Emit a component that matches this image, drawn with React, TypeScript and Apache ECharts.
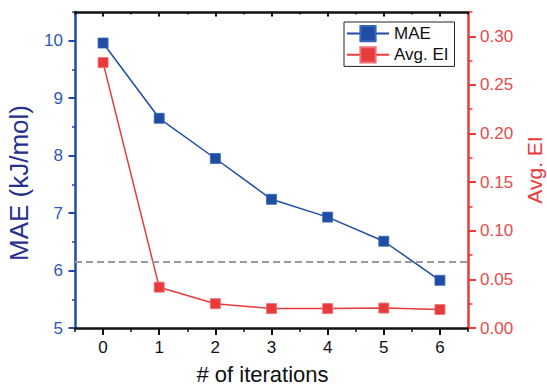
import React, { useEffect, useRef } from "react";
import * as echarts from "echarts";

const iterations = [0, 1, 2, 3, 4, 5, 6];
const maeValues = [9.96, 8.65, 7.95, 7.24, 6.93, 6.51, 5.83];
const eiValues = [0.273, 0.042, 0.025, 0.02, 0.02, 0.0205, 0.019];
const xTickLabels = [0, 1, 2, 3, 4, 5, 6];
const maeTicks = [5, 6, 7, 8, 9, 10];
const eiTicks = [0, 0.05, 0.1, 0.15, 0.2, 0.25, 0.3];
const thresholdMAE = 6.16;

const FONT = "Liberation Sans, Arial, sans-serif";
const BLUE = "#1f4da3";
const BLUE_LABEL = "#2c59b8";
const NAVY = "#26308f";
const RED = "#e8393b";
const RED_LABEL = "#e84a4c";

export default function App() {
  const ref = useRef<HTMLDivElement>(null);
  useEffect(() => {
    if (!ref.current) return;
    const chart = echarts.init(ref.current, undefined, { renderer: "svg" });
    const xBase = { type: "value", min: -0.5, max: 6.5, interval: 0.5, splitLine: { show: false } };
    const yLeftBase = { type: "value", min: 5, max: 10.5, interval: 0.5, position: "left", splitLine: { show: false } };
    const yRightBase = { type: "value", min: 0, max: 0.325, interval: 0.025, position: "right", splitLine: { show: false } };
    chart.setOption({
      animation: false,
      backgroundColor: "#ffffff",
      grid: { left: 75, right: 79, top: 12, bottom: 60, containLabel: false, outerBoundsMode: "none" },
      legend: {
        orient: "vertical",
        left: 344,
        top: 22,
        borderColor: "#222",
        borderWidth: 1,
        padding: [3, 6, 3, 2],
        itemWidth: 42,
        itemHeight: 19,
        itemGap: 4,
        textStyle: { fontFamily: FONT, fontSize: 17, color: "#111" },
        data: ["MAE", "Avg. EI"],
      },
      xAxis: [
        {
          ...xBase,
          position: "bottom",
          axisLine: { show: true, onZero: false, lineStyle: { color: "#111", width: 2.5 } },
          axisTick: { show: true, length: 4, lineStyle: { color: "#111", width: 1.5 } },
          axisLabel: { show: false },
        },
        {
          ...xBase,
          position: "bottom",
          axisLine: { show: false, onZero: false },
          axisTick: { show: true, length: 7, customValues: xTickLabels, lineStyle: { color: "#111", width: 2 } },
          axisLabel: {
            show: true,
            customValues: xTickLabels,
            margin: 11,
            fontFamily: FONT,
            fontSize: 17,
            color: "#111",
            formatter: (v: number) => (Number.isInteger(v) ? String(v) : ""),
          },
          name: "# of iterations",
          nameLocation: "middle",
          nameGap: 35,
          nameTextStyle: { fontFamily: FONT, fontSize: 22, color: "#111", padding: [0, 18, 0, 0] },
        },
        {
          ...xBase,
          position: "top",
          axisLine: { show: true, onZero: false, lineStyle: { color: "#111", width: 2.5 } },
          axisTick: { show: true, inside: true, length: 2.5, lineStyle: { color: "#111", width: 1.5 } },
          axisLabel: { show: false },
        },
        {
          ...xBase,
          position: "top",
          axisLine: { show: false, onZero: false },
          axisTick: { show: true, inside: true, length: 4.5, customValues: xTickLabels, lineStyle: { color: "#111", width: 2 } },
          axisLabel: { show: false },
        },
      ],
      yAxis: [
        {
          ...yLeftBase,
          axisLine: { show: true, onZero: false, lineStyle: { color: BLUE, width: 2.5 } },
          axisTick: { show: true, length: 3, lineStyle: { color: BLUE, width: 1.5 } },
          axisLabel: {
            show: true,
            customValues: maeTicks,
            margin: 12,
            fontFamily: FONT,
            fontSize: 17,
            color: BLUE_LABEL,
            formatter: (v: number) => (Number.isInteger(v) ? String(v) : ""),
          },
          name: "MAE (kJ/mol)",
          nameLocation: "middle",
          nameGap: 43,
          nameTextStyle: { fontFamily: FONT, fontSize: 26, color: NAVY, padding: [0, 26, 0, 0] },
        },
        {
          ...yRightBase,
          axisLine: { show: true, onZero: false, lineStyle: { color: RED, width: 2.5 } },
          axisTick: { show: true, length: 4.5, lineStyle: { color: RED, width: 1.5 } },
          axisLabel: {
            show: true,
            customValues: eiTicks,
            margin: 12,
            fontFamily: FONT,
            fontSize: 17,
            color: RED_LABEL,
            formatter: (v: number) => {
              const r = Math.round(v * 1000) / 1000;
              return Math.abs(r * 20 - Math.round(r * 20)) < 1e-6 ? r.toFixed(2) : "";
            },
          },
          name: "Avg. EI",
          nameLocation: "middle",
          nameGap: 56,
          nameTextStyle: { fontFamily: FONT, fontSize: 21, color: RED },
        },
        {
          ...yLeftBase,
          axisLine: { show: false, onZero: false },
          axisTick: { show: true, length: 6.5, customValues: maeTicks, lineStyle: { color: BLUE, width: 2 } },
          axisLabel: { show: false },
        },
        {
          ...yRightBase,
          axisLine: { show: false, onZero: false },
          axisTick: { show: true, length: 8, customValues: eiTicks, lineStyle: { color: RED, width: 2 } },
          axisLabel: { show: false },
        },
      ],
      series: [
        {
          name: "MAE",
          type: "line",
          xAxisIndex: 0,
          yAxisIndex: 0,
          data: iterations.map((x, i) => [x, maeValues[i]]),
          symbol: "rect",
          symbolSize: 10,
          lineStyle: { color: BLUE, width: 1.5 },
          itemStyle: { color: BLUE, borderColor: "#3a66b8", borderWidth: 0.8 },
          z: 3,
          markLine: {
            silent: true,
            symbol: "none",
            label: { show: false },
            lineStyle: { color: "#9a9a9a", width: 2.2, type: [7, 4] },
            data: [{ yAxis: thresholdMAE }],
          },
        },
        {
          name: "Avg. EI",
          type: "line",
          xAxisIndex: 0,
          yAxisIndex: 1,
          data: iterations.map((x, i) => [x, eiValues[i]]),
          symbol: "rect",
          symbolSize: 10,
          lineStyle: { color: RED, width: 1.5 },
          itemStyle: { color: RED, borderColor: "#f07070", borderWidth: 0.8 },
          z: 3,
        },
      ],
    });
    return () => chart.dispose();
  }, []);
  return (
    <div
      ref={ref}
      style={{ position: "fixed", left: 0, top: 0, width: 547, height: 388, background: "#fff" }}
    />
  );
}
